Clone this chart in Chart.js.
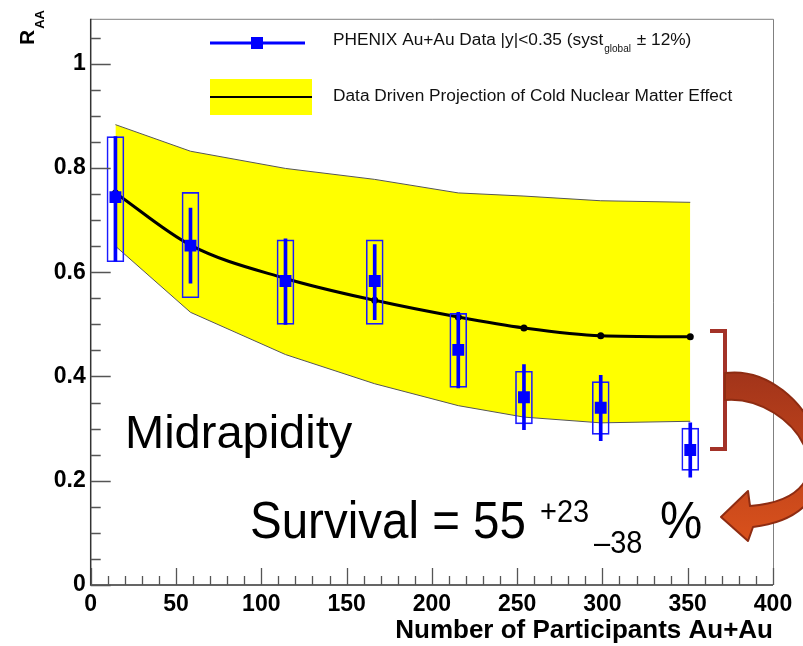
<!DOCTYPE html>
<html><head><meta charset="utf-8">
<script src="https://cdn.jsdelivr.net/npm/chart.js@4.4.0/dist/chart.umd.min.js"></script>
<style>html,body{margin:0;padding:0;background:#fff;overflow:hidden}#wrap{width:803px;height:646px;position:relative}canvas{display:block}</style>
</head><body><div id="wrap"><canvas id="c" width="803" height="646"></canvas></div>
<script>
// ---- data ----
const nPart      = [14.5, 58.5, 114.2, 166.5, 215.5, 254, 299, 351.5];
const raa        = [0.744, 0.651, 0.583, 0.583, 0.451, 0.360, 0.340, 0.259];
const statLow    = [0.621, 0.579, 0.500, 0.509, 0.378, 0.298, 0.277, 0.207];
const statHigh   = [0.860, 0.723, 0.664, 0.653, 0.523, 0.423, 0.402, 0.311];
const systLow    = [0.620, 0.551, 0.500, 0.500, 0.379, 0.309, 0.289, 0.220];
const systHigh   = [0.860, 0.753, 0.662, 0.662, 0.521, 0.410, 0.390, 0.301];
const cnmCentral = [0.752, 0.652, 0.588, 0.546, 0.514, 0.493, 0.478, 0.476];
const cnmUpper   = [0.883, 0.832, 0.799, 0.778, 0.752, 0.746, 0.737, 0.734];
const cnmLower   = [0.650, 0.523, 0.442, 0.386, 0.344, 0.322, 0.311, 0.314];
const xTicks     = [0, 50, 100, 150, 200, 250, 300, 350, 400];
const xTickLabels= ['0','50','100','150','200','250','300','350','400'];
const yTicks     = [0, 0.2, 0.4, 0.6, 0.8, 1];
const yTickLabels= ['0','0.2','0.4','0.6','0.8','1'];
const dataLabel  = 'PHENIX Au+Au Data |y|<0.35 (syst';
const dataLabelSub = 'global';
const dataLabelEnd = ' \u00b1 12%)';
const cnmLabel   = 'Data Driven Projection of Cold Nuclear Matter Effect';
const xTitle     = 'Number of Participants Au+Au';

const FF = '"Liberation Sans", Arial, Helvetica, sans-serif';
Chart.defaults.font.family = FF;

const pts = arr => arr.map((v, i) => ({x: nPart[i], y: v}));
const rng = (lo, hi) => lo.map((v, i) => ({x: nPart[i], y: [v, hi[i]]}));

const decor = {
  id: 'decor',
  afterDatasetsDraw(chart) {
    const {ctx, chartArea: a, scales: {x, y}} = chart;
    ctx.save();
    // frame
    ctx.strokeStyle = '#808080'; ctx.lineWidth = 1;
    ctx.beginPath();
    ctx.moveTo(a.left, a.top + 0.5); ctx.lineTo(a.right + 0.5, a.top + 0.5); ctx.lineTo(a.right + 0.5, a.bottom);
    ctx.stroke();
    ctx.strokeStyle = '#333'; ctx.lineWidth = 1.5;
    ctx.beginPath();
    ctx.moveTo(a.left, a.top); ctx.lineTo(a.left, a.bottom); ctx.lineTo(a.right, a.bottom);
    ctx.stroke();
    // inward ticks
    ctx.strokeStyle = '#555'; ctx.lineWidth = 1.3;
    ctx.beginPath();
    for (let k = 0; k <= 40; k++) {
      const px = Math.round(x.getPixelForValue(k * 10)) + 0.5;
      const len = (k % 5 === 0) ? 17 : 9;
      ctx.moveTo(px, a.bottom); ctx.lineTo(px, a.bottom - len);
    }
    for (let k = 0; k <= 21; k++) {
      const py = Math.round(y.getPixelForValue(k * 0.05)) + 0.5;
      const len = (k % 4 === 0) ? 20 : 10;
      ctx.moveTo(a.left, py); ctx.lineTo(a.left + len, py);
    }
    ctx.stroke();
    ctx.restore();
  },
  afterDraw(chart) {
    const ctx = chart.ctx;
    ctx.save();
    ctx.fillStyle = '#000';
    ctx.textBaseline = 'alphabetic';
    // y title R_AA (rotated)
    ctx.save();
    ctx.translate(34, 45);
    ctx.rotate(-Math.PI / 2);
    ctx.font = 'bold 21px ' + FF;
    ctx.fillText('R', 0, 0);
    const rw = ctx.measureText('R').width;
    ctx.font = 'bold 13px ' + FF;
    ctx.fillText('AA', rw + 1, 10);
    ctx.restore();

    // legend
    ctx.strokeStyle = '#0000ff'; ctx.lineWidth = 3;
    ctx.beginPath(); ctx.moveTo(210, 43); ctx.lineTo(305, 43); ctx.stroke();
    ctx.fillStyle = '#0000ff'; ctx.fillRect(251, 37, 12, 12);
    ctx.fillStyle = '#ffff00'; ctx.fillRect(210, 79, 102, 36);
    ctx.strokeStyle = '#000'; ctx.lineWidth = 2;
    ctx.beginPath(); ctx.moveTo(210, 97); ctx.lineTo(312, 97); ctx.stroke();
    ctx.fillStyle = '#111';
    ctx.font = '17.3px ' + FF;
    ctx.textBaseline = 'middle';
    ctx.fillText(dataLabel, 333, 40);
    let lx = 333 + ctx.measureText(dataLabel).width + 1;
    ctx.font = '10px ' + FF;
    ctx.fillText(dataLabelSub, lx, 49);
    lx += ctx.measureText(dataLabelSub).width + 1;
    ctx.font = '17.3px ' + FF;
    ctx.fillText(dataLabelEnd, lx, 40);
    ctx.fillText(cnmLabel, 333, 96);

    // annotation texts
    ctx.fillStyle = '#000';
    ctx.textBaseline = 'alphabetic';
    ctx.font = '47px ' + FF;
    ctx.fillText('Midrapidity', 125, 448);
    ctx.save();
    ctx.translate(0, 538);
    ctx.scale(1, 1.08);
    ctx.font = '47.5px ' + FF;
    ctx.fillText('Survival = 55', 250, 0);
    ctx.font = '29px ' + FF;
    ctx.fillText('+23', 540, (522 - 538) / 1.08);
    ctx.fillText('\u201338', 594, (553 - 538) / 1.08);
    ctx.font = '47.5px ' + FF;
    ctx.fillText('%', 660, 0);
    ctx.restore();

    // bracket
    ctx.strokeStyle = '#a33228'; ctx.lineWidth = 4; ctx.lineJoin = 'miter';
    ctx.beginPath();
    ctx.moveTo(710, 331); ctx.lineTo(725, 331); ctx.lineTo(725, 449); ctx.lineTo(710, 449);
    ctx.stroke();

    // curved arrow
    const g = ctx.createLinearGradient(0, 372, 0, 540);
    g.addColorStop(0, '#a2341a');
    g.addColorStop(1, '#d9511c');
    ctx.fillStyle = g;
    ctx.strokeStyle = '#8e2c12'; ctx.lineWidth = 2; ctx.lineJoin = 'round';
    ctx.beginPath();
    ctx.moveTo(725, 373);
    ctx.bezierCurveTo(810, 362, 878, 512, 753, 527);
    ctx.lineTo(748, 541);
    ctx.lineTo(721, 517);
    ctx.lineTo(748, 491);
    ctx.lineTo(750, 506);
    ctx.bezierCurveTo(860, 497, 795, 394, 725, 400);
    ctx.closePath();
    ctx.fill(); ctx.stroke();
    ctx.restore();
  }
};

new Chart(document.getElementById('c'), {
  type: 'line',
  data: {
    datasets: [
      { label: 'PHENIX Au+Au Data', type: 'line', data: pts(raa), showLine: false,
        pointStyle: 'rect', pointRadius: 8.4, pointHoverRadius: 8.4,
        pointBackgroundColor: '#0000ff', pointBorderWidth: 0, order: 1 },
      { label: 'stat', type: 'bar', data: rng(statLow, statHigh), barThickness: 3, grouped: false,
        backgroundColor: '#0000ff', borderWidth: 0, order: 2 },
      { label: 'syst', type: 'bar', data: rng(systLow, systHigh), barThickness: 17, grouped: false,
        backgroundColor: 'rgba(0,0,0,0)', borderColor: '#1a1aff', borderWidth: 1, borderSkipped: false, order: 3 },
      { label: cnmLabel, type: 'line', data: pts(cnmCentral), borderColor: '#000', borderWidth: 3,
        pointRadius: 3.5, pointBackgroundColor: '#000', pointBorderWidth: 0,
        tension: 0.4, cubicInterpolationMode: 'monotone', fill: false, order: 4 },
      { label: 'CNM upper', type: 'line', data: pts(cnmUpper), borderColor: '#555', borderWidth: 1,
        pointRadius: 0, tension: 0, fill: '+1', backgroundColor: '#ffff00', order: 6 },
      { label: 'CNM lower', type: 'line', data: pts(cnmLower), borderColor: '#555', borderWidth: 1,
        pointRadius: 0, tension: 0, fill: false, order: 5 }
    ]
  },
  options: {
    responsive: false,
    animation: false,
    devicePixelRatio: 1,
    layout: { padding: { left: 0, right: 30, top: 15, bottom: 0 } },
    plugins: { legend: { display: false }, tooltip: { enabled: false } },
    scales: {
      x: {
        type: 'linear', min: 0, max: 400, offset: false,
        grid: { display: false, drawTicks: false },
        border: { display: false },
        afterBuildTicks: s => { s.ticks = xTicks.map(v => ({ value: v })); },
        afterFit: s => { s.height = 61; },
        ticks: { padding: 6, color: '#000', font: { size: 23, weight: 'bold' }, maxRotation: 0, autoSkip: false,
          callback: (v) => xTickLabels[xTicks.indexOf(v)] },
        title: { display: true, text: xTitle, align: 'end', color: '#000',
          font: { size: 26, weight: 'bold' }, padding: { top: 0, bottom: 0 } }
      },
      y: {
        type: 'linear', min: 0, max: 1.086,
        grid: { display: false, drawTicks: false },
        border: { display: false },
        afterBuildTicks: s => { s.ticks = yTicks.map(v => ({ value: v })); },
        afterFit: s => { s.width = 90.7; },
        ticks: { padding: 5, color: '#000', font: { size: 23, weight: 'bold' }, autoSkip: false,
          callback: (v) => yTickLabels[yTicks.indexOf(v)] }
      }
    }
  },
  plugins: [decor]
});
</script>
</body></html>
